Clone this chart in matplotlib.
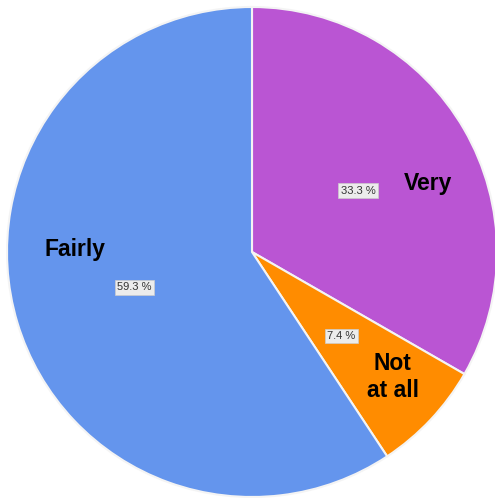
import matplotlib.pyplot as plt

# --- DATOS ---
categorias = ['Very', 'Not\nat all', 'Fairly']
porcentajes = [33.3, 7.4, 59.3]
colores = ['#BA55D3', '#FF8C00', '#6495ED']

# posiciones de las etiquetas (en unidades del radio)
pos_etiquetas = [(0.72, 0.28), (0.575, -0.51), (-0.722, 0.01)]

fig = plt.figure(figsize=(4.95, 4.98), dpi=100)
ax = fig.add_axes([7 / 495, 1 / 498, 490 / 495, 490 / 498])

wedges, texts, autotexts = ax.pie(
    porcentajes, labels=categorias, colors=colores, startangle=90,
    counterclock=False, autopct='%.1f %%', pctdistance=0.5,
    labeldistance=0.75, radius=1,
    wedgeprops=dict(edgecolor='#f4f4f4', linewidth=1.5),
)

for t, p in zip(texts, pos_etiquetas):
    t.set_position(p)
    t.set_ha('center')
    t.set_va('center')
    t.set_fontsize(16.5)
    t.set_fontweight('bold')
    t.set_family('Liberation Sans')
    t.set_color('black')
    t.set_linespacing(1.25)

for t in autotexts:
    t.set_fontsize(8)
    t.set_family('Liberation Sans')
    t.set_color('#333333')
    t.set_bbox(dict(boxstyle='square,pad=0.2', facecolor='#ececec', edgecolor='#cccccc', linewidth=0.5))

ax.set_xlim(-1, 1)
ax.set_ylim(-1, 1)
ax.set_aspect('equal')
ax.axis('off')

fig.savefig('out.png', dpi=100)
